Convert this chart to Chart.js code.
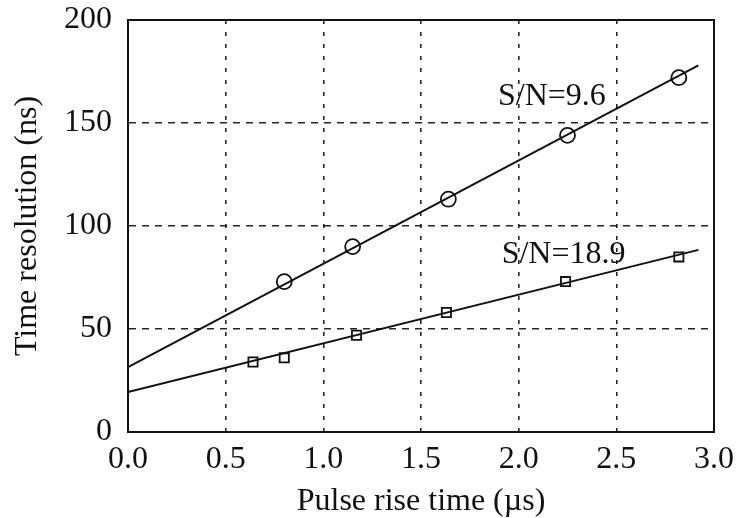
<!DOCTYPE html>
<html>
<head>
<meta charset="utf-8">
<script src="https://cdn.jsdelivr.net/npm/chart.js@4/dist/chart.umd.min.js"></script>
<style>
  html, body { margin: 0; padding: 0; background: #fff; }
</style>
</head>
<body>
<canvas id="chart" width="746" height="518"></canvas>
<script>
// measured points
const riseCircle = [0.80, 1.15, 1.64, 2.25, 2.82];
const resCircle = [73, 90, 113, 144, 172];
const riseSquare = [0.64, 0.80, 1.17, 1.63, 2.24, 2.82];
const resSquare = [34, 36, 47, 58, 73, 85];

// linear fits
const fitX = [0, 2.92];
const fitCircle = [31.5, 178];
const fitSquare = [19.4, 88.4];

// curve labels
const labelText = ["S/N=9.6", "S/N=18.9"];
const labelX = [2.17, 2.23];
const labelY = [163, 86];

const xTicks = [0, 0.5, 1, 1.5, 2, 2.5, 3];
const yTicks = [0, 50, 100, 150, 200];

const serif = "'Liberation Serif', 'DejaVu Serif', serif";
const ink = "#111";

const toPoints = (xs, ys) => xs.map((x, i) => ({ x, y: ys[i] }));

const framePlugin = {
  id: "frame",
  afterDraw(chart) {
    const { ctx, chartArea: a } = chart;
    ctx.save();
    ctx.strokeStyle = ink;
    ctx.lineWidth = 2;
    ctx.strokeRect(a.left, a.top, a.right - a.left, a.bottom - a.top);
    ctx.restore();
  },
};

const labelPlugin = {
  id: "curveLabels",
  afterDatasetsDraw(chart) {
    const { ctx, scales } = chart;
    ctx.save();
    ctx.fillStyle = ink;
    ctx.font = `32px ${serif}`;
    ctx.textAlign = "center";
    ctx.textBaseline = "middle";
    labelText.forEach((t, i) => {
      ctx.fillText(t, scales.x.getPixelForValue(labelX[i]), scales.y.getPixelForValue(labelY[i]));
    });
    ctx.restore();
  },
};

new Chart(document.getElementById("chart"), {
  type: "scatter",
  data: {
    datasets: [
      {
        data: toPoints(fitX, fitCircle),
        showLine: true,
        borderColor: ink,
        borderWidth: 2,
        pointRadius: 0,
      },
      {
        data: toPoints(fitX, fitSquare),
        showLine: true,
        borderColor: ink,
        borderWidth: 2,
        pointRadius: 0,
      },
      {
        data: toPoints(riseCircle, resCircle),
        pointStyle: "circle",
        pointRadius: 7.5,
        borderColor: ink,
        borderWidth: 1.8,
        backgroundColor: "rgba(0,0,0,0)",
      },
      {
        data: toPoints(riseSquare, resSquare),
        pointStyle: "rect",
        pointRadius: 6.5,
        borderColor: ink,
        borderWidth: 1.8,
        backgroundColor: "rgba(0,0,0,0)",
      },
    ],
  },
  options: {
    responsive: false,
    animation: false,
    layout: { padding: { top: 20, right: 32, left: 0, bottom: 0 } },
    plugins: { legend: { display: false }, tooltip: { enabled: false } },
    scales: {
      x: {
        type: "linear",
        min: 0,
        max: 3,
        afterBuildTicks: (s) => { s.ticks = xTicks.map((v) => ({ value: v })); },
        afterFit: (s) => { s.height = 86; s.paddingLeft = 0; s.paddingRight = 0; },
        ticks: {
          color: ink,
          font: { family: serif, size: 32 },
          padding: 8,
          maxRotation: 0,
          callback: (v) => v.toFixed(1),
        },
        grid: { color: "rgba(0,0,0,0.85)", lineWidth: 1.6, drawTicks: false },
        border: { color: ink, width: 2, dash: [4, 8] },
        title: {
          display: true,
          text: "Pulse rise time (µs)",
          color: ink,
          font: { family: serif, size: 32, lineHeight: 1 },
          padding: 0,
        },
      },
      y: {
        min: 0,
        max: 200,
        afterBuildTicks: (s) => { s.ticks = yTicks.map((v) => ({ value: v })); },
        afterFit: (s) => { s.width = 128; s.paddingTop = 0; s.paddingBottom = 0; },
        ticks: {
          color: ink,
          font: { family: serif, size: 32 },
          padding: 16,
        },
        grid: { color: "rgba(0,0,0,0.85)", lineWidth: 1.6, drawTicks: false },
        border: { color: ink, width: 2, dash: [7, 6] },
        title: {
          display: true,
          text: "Time resolution (ns)",
          color: ink,
          font: { family: serif, size: 32, lineHeight: 1 },
          padding: { top: 12, bottom: 0 },
        },
      },
    },
  },
  plugins: [framePlugin, labelPlugin],
});
</script>
</body>
</html>
